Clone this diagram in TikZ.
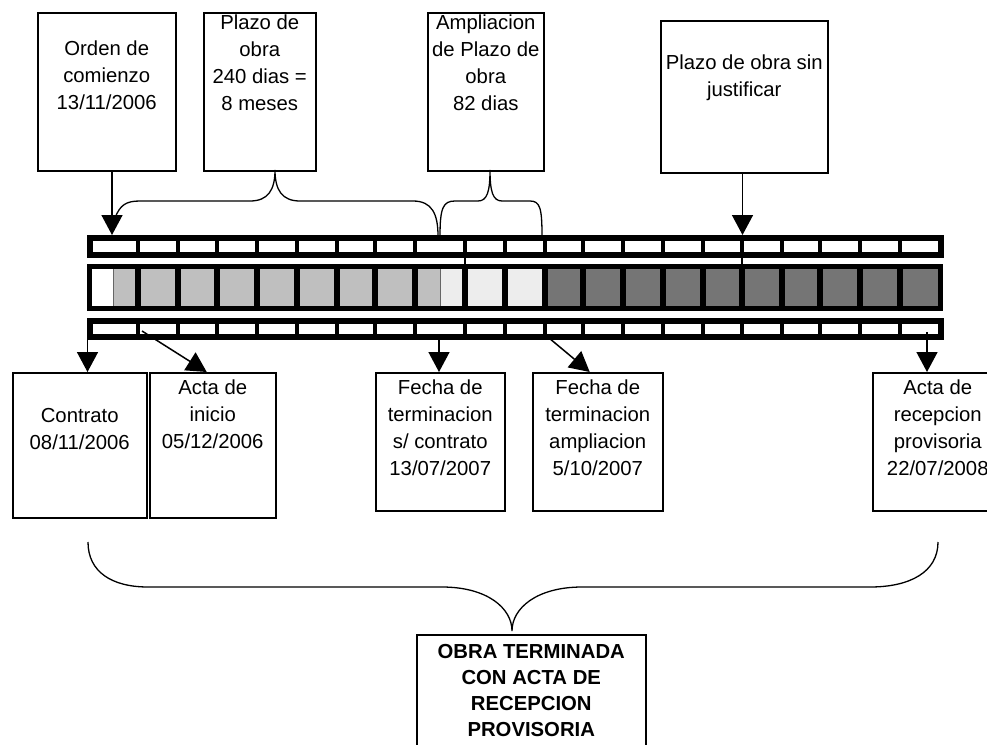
\documentclass[tikz,border=0pt]{standalone}
\usepackage{fontspec}
\setmainfont{Liberation Sans}
\usetikzlibrary{arrows.meta}
\newcommand{\txtcaja}[4]{\parbox[t][#2][t]{#1}{\centering\rule{0pt}{#3}#4}}
\tikzset{
  caja/.style={draw, line width=1.5pt, anchor=north west, inner sep=0pt, font=\fontsize{20.3}{27}\selectfont},
  flecha/.style={line width=1.5pt, -{Triangle[width=21pt,length=20pt]}},
  llave/.style={line width=1.3pt},
  celda/.style={line width=3.5pt},
  marco/.style={line width=6pt}
}
\begin{document}
\begin{tikzpicture}[x=1pt,y=-1pt]
\clip (0,0) rectangle (987,744);
\fill[white] (0,0) rectangle (987,744);

\fill[white] (89.5,268) rectangle (113,306);
\fill[black!25] (113,268) rectangle (440,306);
\fill[black!7] (440,268) rectangle (545,306);
\fill[black!54] (545,268) rectangle (940.5,306);
\draw[black!60, line width=1pt] (113,268) -- (113,306) (440,268) -- (440,306);
\foreach \a/\b in {89.5/138,138/178,178/217,217/257,257/297,297/337,337/375,375/415,415/465,465/505,505/545,
                   545/583,583/623,623/663,663/703,703/742,742/782,782/820,820/860,860/900,900/940.5} {
  \draw[celda] (\a,238) rectangle (\b,255);
  \draw[celda, line width=5.5pt] (\a,266.5) rectangle (\b,308.5);
  \draw[celda] (\a,321) rectangle (\b,337);
}
\draw[marco] (89.5,238) rectangle (940.5,255);
\draw[line width=5pt] (89.5,266.5) rectangle (940.5,308.5);
\draw[marco] (89.5,321) rectangle (940.5,337);
\draw[line width=1.5pt] (465,258) -- (465,264) (742,258) -- (742,264);

\node[caja] (orden) at (37,12) {\txtcaja{138pt}{158pt}{43pt}{Orden de\\comienzo\\13/11/2006}};
\node[caja] (plazo) at (203,12) {\txtcaja{112pt}{158pt}{17pt}{Plazo de\\obra\\240 dias =\\8 meses}};
\node[caja] (ampl) at (427,12) {\txtcaja{116pt}{158pt}{17pt}{Ampliacion\\de Plazo de\\obra\\82 dias}};
\node[caja] (sinjust) at (660,20) {\txtcaja{167pt}{152pt}{49pt}{Plazo de obra sin\\justificar}};

\node[caja] (contrato) at (12,372) {\txtcaja{134pt}{145pt}{50pt}{Contrato\\08/11/2006}};
\node[caja] (inicio) at (149,372) {\txtcaja{126pt}{145pt}{22pt}{Acta de\\inicio\\05/12/2006}};
\node[caja] (fechacon) at (375,372) {\txtcaja{129pt}{138pt}{22pt}{Fecha de\\terminacion\\s/ contrato\\13/07/2007}};
\node[caja] (fechaamp) at (532,372) {\txtcaja{130pt}{138pt}{22pt}{Fecha de\\terminacion\\ampliacion\\5/10/2007}};
\node[caja] (recep) at (872,372) {\txtcaja{130pt}{138pt}{22pt}{Acta de\\recepcion\\provisoria\\22/07/2008}};
\node[caja, font=\fontsize{20.3}{26}\selectfont\bfseries] (obra) at (416,634)
  {\txtcaja{229pt}{140pt}{24pt}{OBRA TERMINADA\\CON ACTA DE\\RECEPCION\\PROVISORIA}};

\coordinate (a-orden) at (112,235);
\coordinate (a-sj) at (742.5,235);
\draw[flecha] (orden.south -| a-orden) -- (a-orden);
\draw[flecha] (sinjust.south -| a-sj) -- (a-sj);

\coordinate (b-contrato) at (87.5,340);
\coordinate (b-inicio) at (142,331);
\coordinate (b-fcon) at (439,340);
\coordinate (b-famp) at (549,338);
\coordinate (b-recep) at (927,332);
\draw[flecha] (b-contrato) -- (contrato.north -| b-contrato);
\draw[flecha] (b-inicio) -- ([xshift=-6pt]inicio.north);
\draw[flecha] (b-fcon) -- (fechacon.north -| b-fcon);
\draw[flecha] (b-famp) -- ([xshift=-8pt]fechaamp.north);
\draw[flecha] (b-recep) -- (recep.north -| b-recep);

\draw[llave] (115,218) .. controls (120,205) and (126,201) .. (140,201) -- (250,201)
  .. controls (268,201) and (275,190) .. (275,170) .. controls (275,190) and (282,201) .. (300,201)
  -- (413,201) .. controls (432,201) and (438,214) .. (438,236);
\draw[llave] (440,236) .. controls (440,208) and (443,201) .. (455,201) -- (478,201)
  .. controls (487,201) and (490,192) .. (490,170) .. controls (490,192) and (493,201) .. (502,201)
  -- (530,201) .. controls (540,201) and (542,208) .. (542,236);
\draw[llave] (88,542) .. controls (88,572) and (112,587) .. (148,587) -- (442,587)
  .. controls (487,587) and (512,608) .. (512,631) .. controls (512,608) and (537,587) .. (582,587)
  -- (870,587) .. controls (910,587) and (938,572) .. (938,542);
\end{tikzpicture}
\end{document}
